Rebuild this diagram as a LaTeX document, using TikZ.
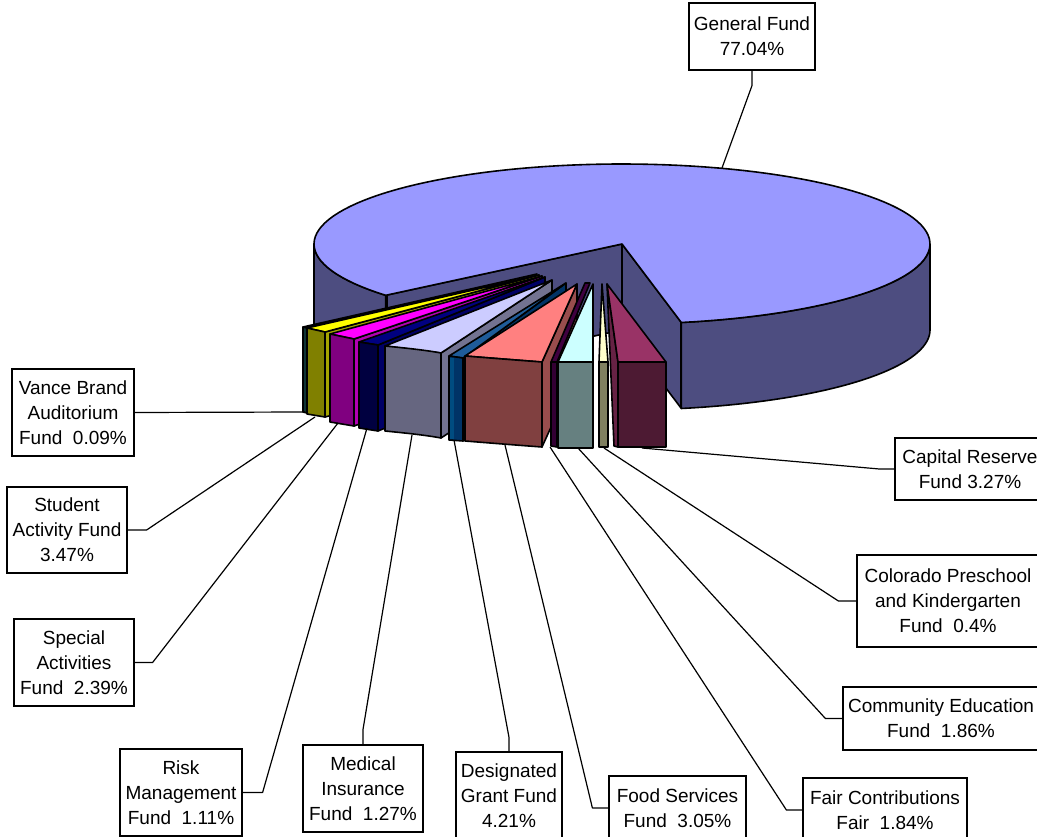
\documentclass[tikz,border=0pt]{standalone}
\usepackage{fontspec}
\setmainfont{Liberation Sans}
\definecolor{pietop}{HTML}{9999FF}
\definecolor{pieside}{HTML}{4D4D80}
\definecolor{vfront}{HTML}{0F3333}
\definecolor{otop}{HTML}{FFFF00}
\definecolor{ofront}{HTML}{808000}
\definecolor{oside}{HTML}{A6A600}
\definecolor{mtop}{HTML}{FF00FF}
\definecolor{mfront}{HTML}{800080}
\definecolor{mside}{HTML}{B300B3}
\definecolor{ntop}{HTML}{000080}
\definecolor{nfront}{HTML}{000040}
\definecolor{nside}{HTML}{000066}
\definecolor{ltop}{HTML}{CCCCFF}
\definecolor{lfront}{HTML}{666680}
\definecolor{lside}{HTML}{737391}
\definecolor{btop}{HTML}{1F5C99}
\definecolor{bfront}{HTML}{003366}
\definecolor{blight}{HTML}{004C80}
\definecolor{stop}{HTML}{FF8080}
\definecolor{sfront}{HTML}{804040}
\definecolor{sside}{HTML}{994D4D}
\definecolor{ptop}{HTML}{400040}
\definecolor{pfront}{HTML}{330033}
\definecolor{ttop}{HTML}{CCFFFF}
\definecolor{tfront}{HTML}{668080}
\definecolor{ctop}{HTML}{FFFFCC}
\definecolor{cfront}{HTML}{808060}
\definecolor{rtop}{HTML}{993366}
\definecolor{rfront}{HTML}{4D1A33}
\definecolor{rside}{HTML}{662244}
\begin{document}
\begin{tikzpicture}[x=1pt,y=-1pt,
  face/.style={draw=black,line width=1.6pt,line join=round},
  lbl/.style={draw=black,fill=white,line width=1.2pt,align=center,inner sep=0pt,
    font=\fontsize{19}{25}\selectfont},
  lead/.style={draw=black,line width=1.2pt,line join=round}]
\useasboundingbox (0,0) rectangle (1037,837);
\clip (0,0) rectangle (1037,837);
% ---------- big slice (General Fund) ----------
\path[face,fill=pieside] plot[domain=140.1:180,samples=20] ({622+308*cos(\x)},{244+80*sin(\x)})
  -- plot[domain=180:140.1,samples=20] ({622+308*cos(\x)},{330+80*sin(\x)}) -- cycle;
\path[face,fill=pieside] plot[domain=0:78.9,samples=40] ({622+308*cos(\x)},{244+80*sin(\x)})
  -- plot[domain=78.9:0,samples=40] ({622+308*cos(\x)},{330+80*sin(\x)}) -- cycle;
\path[face,fill=pieside] (387,295) -- (622,244) -- (622,330) -- (387,381) -- cycle;
\path[face,fill=pieside] (622,244) -- (681,322) -- (681,408) -- (622,330) -- cycle;
\path[face,fill=pietop] (622,244) -- plot[domain=140.1:438.9,samples=120] ({622+308*cos(\x)},{244+80*sin(\x)}) -- cycle;
% ---------- Vance Brand ----------
\path[face,fill=vfront] (303,327) -- (537,274) -- (307,328) -- cycle;
\path[face,fill=vfront] (303,327) -- (307,328) -- (307,413) -- (303,412) -- cycle;
% ---------- Student Activity ----------
\path[face,fill=oside] (325,332) -- (539,275) -- (539,361) -- (325,417) -- cycle;
\path[face,fill=otop] (307,328) -- (539,275) -- (325,332) -- cycle;
\path[face,fill=ofront] (307,328) -- (325,332) -- (325,417) -- (307,414) -- cycle;
% ---------- Special Activities ----------
\path[face,fill=mside] (354,339) -- (542,276) -- (542,362) -- (354,426) -- cycle;
\path[face,fill=mtop] (330,334) -- (542,276) -- (354,339) -- cycle;
\path[face,fill=mfront] (330,334) -- (354,339) -- (354,426) -- (330,422) -- cycle;
% ---------- Risk Management ----------
\path[face,fill=nside] (378,345) -- (545,277) -- (545,363) -- (378,431) -- cycle;
\path[face,fill=ntop] (359,342) -- (545,277) -- (378,345) -- cycle;
\path[face,fill=nfront] (359,342) -- (378,345) -- (378,431) -- (359,428) -- cycle;
% ---------- Medical Insurance ----------
\path[face,fill=lside] (441,353) -- (552,280) -- (552,366) -- (441,438) -- cycle;
\path[face,fill=ltop] (385,346) -- (552,280) -- (441,353) -- cycle;
\path[face,fill=lfront] (385,346) .. controls (405,348) and (425,350) .. (441,353) -- (441,438) .. controls (425,435) and (405,433) .. (385,431) -- cycle;
% ---------- Designated Grant ----------
\path[face,fill=bfront] (463,358) -- (566,283) -- (566,369) -- (463,441) -- cycle;
\path[face,fill=btop] (449,356) -- (566,283) -- (463,358) -- cycle;
\path[face,fill=bfront] (449,356) -- (463,358) -- (463,441) -- (449,440) -- cycle;
\fill[blight] (450,357.5) rectangle (453.5,439);
% ---------- Food Services ----------
\path[face,fill=sside] (542,362) -- (577,284) -- (577,370) -- (542,447) -- cycle;
\path[face,fill=stop] (465,356) -- (577,284) -- (542,362) -- cycle;
\path[face,fill=sfront] (465,356) .. controls (490,358) and (515,360) .. (542,362) -- (542,447) .. controls (515,445) and (490,443) .. (465,441) -- cycle;
% ---------- Capital Reserve ----------
\path[face,fill=rside] (607,284) -- (618,362) -- (618,447) -- (614,446) -- cycle;
\path[face,fill=rtop] (607,284) -- (666,362) -- (618,362) -- cycle;
\path[face,fill=rfront] (618,362) -- (666,362) -- (666,447) -- (618,447) -- cycle;
% ---------- Colorado Preschool ----------
\path[face,fill=ctop] (602,284) -- (608,362) -- (599,362) -- cycle;
\path[face,fill=cfront] (599,362) -- (608,362) -- (608,447) -- (599,447) -- cycle;
% ---------- Community Education ----------
\path[face,fill=ttop] (593,284) -- (593,362) -- (558,362) -- cycle;
\path[face,fill=tfront] (558,362) -- (593,362) -- (593,448) -- (558,448) -- cycle;
% ---------- Fair Contributions ----------
\path[face,fill=ptop] (585,283) -- (590,283) -- (557,362) -- (551,362) -- cycle;
\path[face,fill=pfront] (551,362) -- (557,362) -- (557,447) -- (551,446) -- cycle;
% ---------- leader end points ----------
\coordinate (pGen) at (722,168);
\coordinate (pVance) at (305,412);
\coordinate (pStudent) at (315,417);
\coordinate (pSpecial) at (338,423);
\coordinate (pRisk) at (367,428);
\coordinate (pMedical) at (412,435);
\coordinate (pDesig) at (454,440);
\coordinate (pFood) at (505,445);
\coordinate (pFair) at (550,447);
\coordinate (pComm) at (578,448);
\coordinate (pColo) at (604,448);
\coordinate (pCap) at (642,448);
% ---------- labels ----------
\node[lbl,minimum width=126,minimum height=67] (gen) at (752,36.5) {General Fund\\77.04\%};
\node[lbl,minimum width=122,minimum height=87] (vance) at (73,412.5) {Vance Brand\\Auditorium\\Fund~~0.09\%};
\node[lbl,minimum width=120,minimum height=86] (student) at (67,530) {Student\\Activity Fund\\3.47\%};
\node[lbl,minimum width=120,minimum height=87] (special) at (74,662.5) {Special\\Activities\\Fund~~2.39\%};
\node[lbl,minimum width=122,minimum height=87] (risk) at (181,792.5) {Risk\\Management\\Fund~~1.11\%};
\node[lbl,minimum width=120,minimum height=87] (medical) at (363,788.5) {Medical\\Insurance\\Fund~~1.27\%};
\node[lbl,minimum width=106,minimum height=87] (desig) at (509,795.5) {Designated\\Grant Fund\\4.21\%};
\node[lbl,minimum width=137,minimum height=64] (food) at (677.5,808) {Food Services\\Fund~~3.05\%};
\node[lbl,minimum width=164,minimum height=64] (fair) at (885,810) {Fair Contributions\\Fair~~1.84\%};
\node[lbl,minimum width=196,minimum height=63] (comm) at (941,718.5) {Community Education\\Fund~~1.86\%};
\node[lbl,minimum width=182,minimum height=92] (colo) at (948,601) {Colorado Preschool\\and Kindergarten\\Fund~~0.4\%};
\node[lbl,minimum width=150,minimum height=62] (cap) at (970,469) {Capital Reserve\\Fund 3.27\%};
% ---------- leader lines ----------
\draw[lead] (gen.south) -- ++(0,15) -- (pGen);
\draw[lead] (vance.east) -- (pVance);
\draw[lead] (student.east) -- ++(19,0) -- (pStudent);
\draw[lead] (special.east) -- ++(18,0) -- (pSpecial);
\draw[lead] (risk.east) -- ++(20,0) -- (pRisk);
\draw[lead] (medical.north) -- ++(0,-15) -- (pMedical);
\draw[lead] (desig.north) -- ++(0,-14) -- (pDesig);
\draw[lead] (food.west) -- ++(-16,0) -- (pFood);
\draw[lead] (fair.west) -- ++(-16,0) -- (pFair);
\draw[lead] (comm.west) -- ++(-17,0) -- (pComm);
\draw[lead] (colo.west) -- ++(-18,0) -- (pColo);
\draw[lead] (cap.west) -- ++(-15,0) -- (pCap);
\end{tikzpicture}
\end{document}
